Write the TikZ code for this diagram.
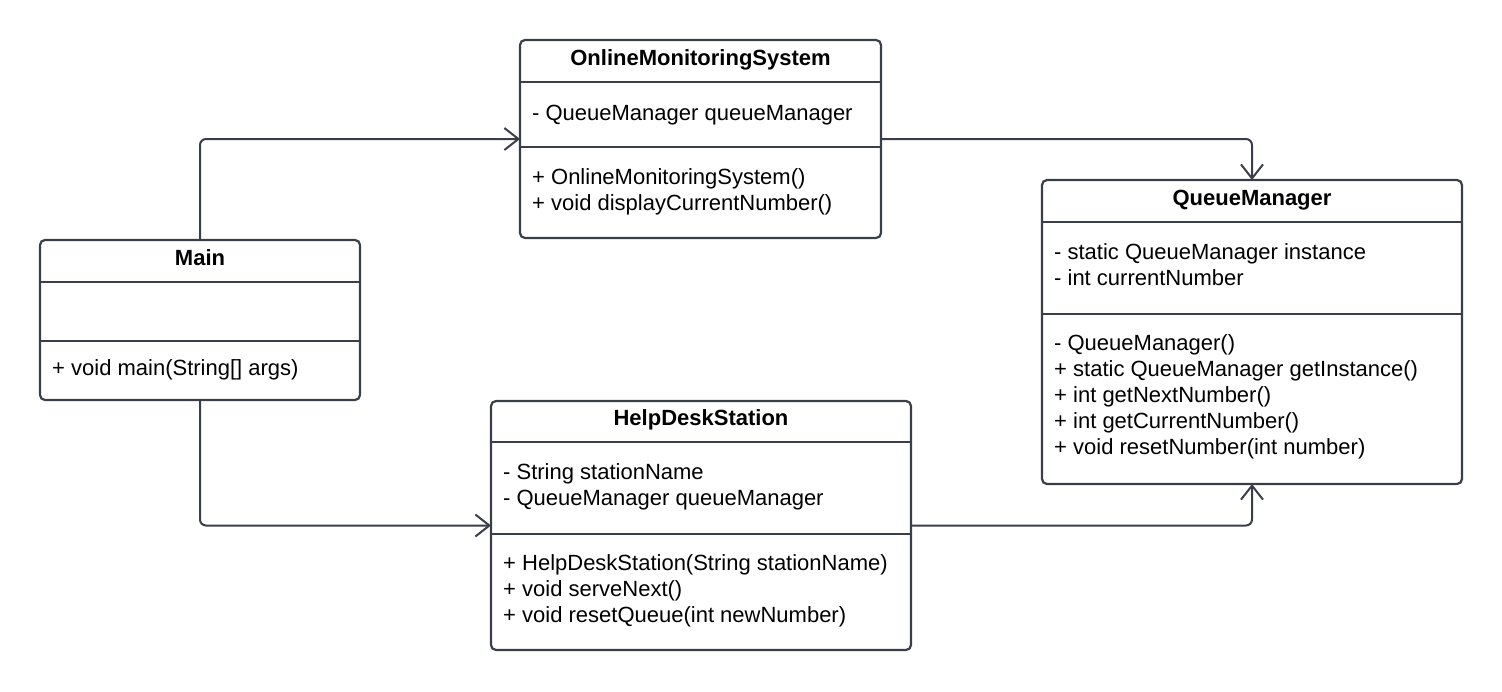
\documentclass[tikz,border=0pt]{standalone}
\usepackage{fontspec}
\setmainfont{Liberation Sans}
\usetikzlibrary{arrows.meta}

\definecolor{umlline}{RGB}{58,62,72}

\begin{document}
\begin{tikzpicture}[x=1pt, y=-1pt,
    classbox/.style={rectangle, draw=umlline, line width=2.2pt, rounded corners=5pt, inner sep=0pt, outer sep=0pt},
    classname/.style={anchor=base, inner sep=0pt, font=\fontsize{22}{26}\selectfont\bfseries},
    members/.style={anchor=north west, inner sep=0pt, align=left, font=\fontsize{22}{26}\selectfont},
    divider/.style={draw=umlline, line width=2.2pt},
    assoc/.style={draw=umlline, line width=2pt, rounded corners=6pt, -{Straight Barb[length=14pt,width=22pt]}}]

      % Frame
      \useasboundingbox (0,0) rectangle (1502,691);

      % Class boxes
      \node[classbox, minimum width=320pt, minimum height=160pt] (main) at (200,320) {};
      \node[classbox, minimum width=361pt, minimum height=198pt] (oms) at (700.5,139) {};
      \node[classbox, minimum width=420pt, minimum height=304pt] (qm) at (1252,332) {};
      \node[classbox, minimum width=420pt, minimum height=249pt] (hds) at (701,525.5) {};

      % Dividers
      \draw[divider] (40,282) -- (360,282);
      \draw[divider] (40,341) -- (360,341);
      \draw[divider] (520,82) -- (881,82);
      \draw[divider] (520,147) -- (881,147);
      \draw[divider] (1042,222) -- (1462,222);
      \draw[divider] (1042,314) -- (1462,314);
      \draw[divider] (491,442) -- (911,442);
      \draw[divider] (491,534) -- (911,534);

      % Class names
      \node[classname] (mainname) at (200,265.7) {Main};
      \node[classname] (omsname) at (700.5,65.7) {OnlineMonitoringSystem};
      \node[classname] (qmname) at (1252,205.7) {QueueManager};
      \node[classname] (hdsname) at (701,425.7) {HelpDeskStation};

      % Attributes
      \node[members] (omsattr) at (532,101.8) {\strut- QueueManager queueManager};
      \node[members] (qmattr) at (1054,241.1) {\strut- static QueueManager instance\\- int currentNumber};
      \node[members] (hdsattr) at (503,461.1) {\strut- String stationName\\- QueueManager queueManager};

      % Operations
      \node[members] (mainops) at (52,357.5) {\strut+ void main(String[] args)};
      \node[members] (omsops) at (532,165.8) {\strut+ OnlineMonitoringSystem()\\+ void displayCurrentNumber()};
      \node[members] (qmops) at (1054,331.8) {\strut- QueueManager()\\+ static QueueManager getInstance()\\+ int getNextNumber()\\+ int getCurrentNumber()\\+ void resetNumber(int number)};
      \node[members] (hdsops) at (503,551.8) {\strut+ HelpDeskStation(String stationName)\\+ void serveNext()\\+ void resetQueue(int newNumber)};

      % Associations
      \draw[assoc] (main.north) |- (oms.west);
      \draw[assoc] (main.south) |- (hds.west);
      \draw[assoc] (oms.east) -| (qm.north);
      \draw[assoc] (hds.east) -| (qm.south);

    \end{tikzpicture}
\end{document}
